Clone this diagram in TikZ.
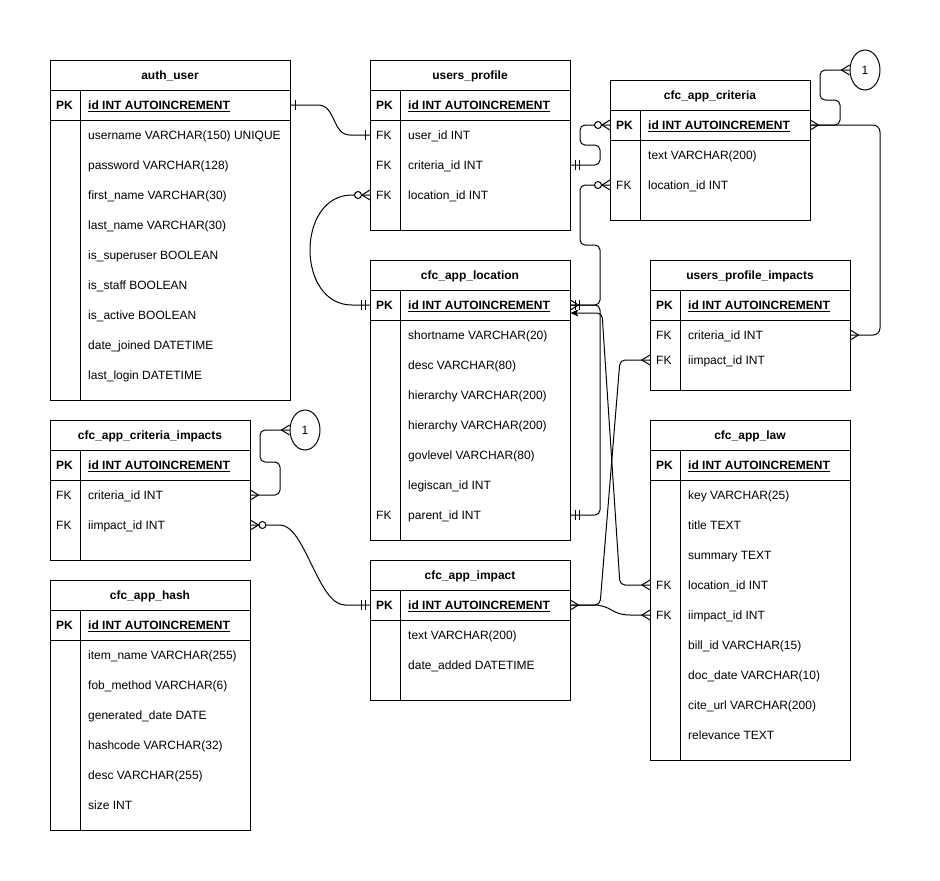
\documentclass[tikz,border=0pt]{standalone}
\usepackage{fontspec}
\setmainfont{Liberation Sans}
\usetikzlibrary{shapes.geometric,arrows.meta,calc}

% entity box: name, x0, y0, x1, y1, title
\newcommand{\ertable}[6]{%
  \draw[tblline,fill=white] (#2,#3) rectangle (#4,#5);
  \node[tbltitle] (#1) at ({(#2+#4)/2},{#3+19.3}) {#6};
  \draw[tblline] (#2,{#3+30}) -- (#4,{#3+30});
  \draw[tblline] (#2,{#3+60}) -- (#4,{#3+60});
  \draw[tblline] ({#2+30},{#3+30}) -- ({#2+30},#5);
}
% attribute row: name, x0, y, width, key, field
\newcommand{\errow}[6]{%
  \node[rowcell,minimum width=#4pt] (#1) at (#2,#3) {};
  \node[keytxt] (#1-k) at ([xshift=6pt,yshift=-4.3pt]#1.west) {#5};
  \node[fldtxt] (#1-f) at ([xshift=38pt,yshift=-4.3pt]#1.west) {#6};
}
% primary key row: name, x0, y, width
\newcommand{\erpk}[4]{%
  \errow{#1}{#2}{#3}{#4}{\textbf{PK}}{\textbf{\underline{id INT AUTOINCREMENT}}}%
}

\tikzset{
  tblline/.style={line width=1pt,draw=black},
  tbltitle/.style={anchor=base,font=\fontsize{12}{14}\selectfont\bfseries,inner sep=0pt},
  rowcell/.style={rectangle,draw=none,inner sep=0pt,minimum height=30pt,anchor=west},
  keytxt/.style={anchor=base west,inner sep=0pt,font=\fontsize{12}{14}\selectfont},
  fldtxt/.style={anchor=base west,inner sep=0pt,font=\fontsize{12}{14}\selectfont},
  conn/.style={line width=1pt,draw=black},
  orth/.style={conn,rounded corners=5pt},
  refcircle/.style={ellipse,draw=black,line width=1pt,fill=white,minimum width=30pt,minimum height=40pt,inner sep=0pt,font=\fontsize{12}{14}\selectfont},
  mone/.pic={\draw[conn] (5,-5) -- (5,5);},
  mmand/.pic={\draw[conn] (5,-5) -- (5,5) (9,-5) -- (9,5);},
  mmany/.pic={\draw[conn] (0,-5) -- (8,0) -- (0,5);},
  mzmany/.pic={\draw[conn] (0,-5) -- (8,0) -- (0,5);
               \draw[conn,fill=white] (12,0) circle[radius=3.5pt];},
}

\begin{document}
\begin{tikzpicture}[x=1pt,y=-1pt]
\fill[white] (0,0) rectangle (940,881);
\useasboundingbox (0,0) rectangle (940,881);

% ---------- auth_user ----------
\ertable{au}{50}{60}{290}{400}{auth\_user}
\erpk{au_id}{50}{105}{240}
\errow{au_un}{50}{135}{240}{}{username VARCHAR(150) UNIQUE}
\errow{au_pw}{50}{165}{240}{}{password VARCHAR(128)}
\errow{au_fn}{50}{195}{240}{}{first\_name VARCHAR(30)}
\errow{au_ln}{50}{225}{240}{}{last\_name VARCHAR(30)}
\errow{au_su}{50}{255}{240}{}{is\_superuser BOOLEAN}
\errow{au_st}{50}{285}{240}{}{is\_staff BOOLEAN}
\errow{au_ac}{50}{315}{240}{}{is\_active BOOLEAN}
\errow{au_dj}{50}{345}{240}{}{date\_joined DATETIME}
\errow{au_ll}{50}{375}{240}{}{last\_login DATETIME}

% ---------- users_profile ----------
\ertable{up}{370}{60}{570}{230}{users\_profile}
\erpk{up_id}{370}{105}{200}
\errow{up_user}{370}{135}{200}{FK}{user\_id INT}
\errow{up_crit}{370}{165}{200}{FK}{criteria\_id INT}
\errow{up_loc}{370}{195}{200}{FK}{location\_id INT}

% ---------- cfc_app_criteria ----------
\ertable{cr}{610}{80}{810}{220}{cfc\_app\_criteria}
\erpk{cr_id}{610}{125}{200}
\errow{cr_text}{610}{155}{200}{}{text VARCHAR(200)}
\errow{cr_loc}{610}{185}{200}{FK}{location\_id INT}

% ---------- cfc_app_location ----------
\ertable{lo}{370}{260}{570}{540}{cfc\_app\_location}
\erpk{lo_id}{370}{305}{200}
\errow{lo_sn}{370}{335}{200}{}{shortname VARCHAR(20)}
\errow{lo_desc}{370}{365}{200}{}{desc VARCHAR(80)}
\errow{lo_h1}{370}{395}{200}{}{hierarchy VARCHAR(200)}
\errow{lo_h2}{370}{425}{200}{}{hierarchy VARCHAR(200)}
\errow{lo_gov}{370}{455}{200}{}{govlevel VARCHAR(80)}
\errow{lo_leg}{370}{485}{200}{}{legiscan\_id INT}
\errow{lo_parent}{370}{515}{200}{FK}{parent\_id INT}

% ---------- users_profile_impacts ----------
\ertable{upi}{650}{260}{850}{390}{users\_profile\_impacts}
\erpk{upi_id}{650}{305}{200}
\errow{upi_crit}{650}{335}{200}{FK}{criteria\_id INT}
\errow{upi_imp}{650}{360}{200}{FK}{iimpact\_id INT}

% ---------- cfc_app_criteria_impacts ----------
\ertable{ci}{50}{420}{250}{560}{cfc\_app\_criteria\_impacts}
\erpk{ci_id}{50}{465}{200}
\errow{ci_crit}{50}{495}{200}{FK}{criteria\_id INT}
\errow{ci_imp}{50}{525}{200}{FK}{iimpact\_id INT}

% ---------- cfc_app_hash ----------
\ertable{ha}{50}{580}{250}{830}{cfc\_app\_hash}
\erpk{ha_id}{50}{625}{200}
\errow{ha_item}{50}{655}{200}{}{item\_name VARCHAR(255)}
\errow{ha_fob}{50}{685}{200}{}{fob\_method VARCHAR(6)}
\errow{ha_gen}{50}{715}{200}{}{generated\_date DATE}
\errow{ha_hash}{50}{745}{200}{}{hashcode VARCHAR(32)}
\errow{ha_desc}{50}{775}{200}{}{desc VARCHAR(255)}
\errow{ha_size}{50}{805}{200}{}{size INT}

% ---------- cfc_app_impact ----------
\ertable{im}{370}{560}{570}{700}{cfc\_app\_impact}
\erpk{im_id}{370}{605}{200}
\errow{im_text}{370}{635}{200}{}{text VARCHAR(200)}
\errow{im_date}{370}{665}{200}{}{date\_added DATETIME}

% ---------- cfc_app_law ----------
\ertable{law}{650}{420}{850}{760}{cfc\_app\_law}
\erpk{law_id}{650}{465}{200}
\errow{law_key}{650}{495}{200}{}{key VARCHAR(25)}
\errow{law_title}{650}{525}{200}{}{title TEXT}
\errow{law_sum}{650}{555}{200}{}{summary TEXT}
\errow{law_loc}{650}{585}{200}{FK}{location\_id INT}
\errow{law_imp}{650}{615}{200}{FK}{iimpact\_id INT}
\errow{law_bill}{650}{645}{200}{}{bill\_id VARCHAR(15)}
\errow{law_doc}{650}{675}{200}{}{doc\_date VARCHAR(10)}
\errow{law_cite}{650}{705}{200}{}{cite\_url VARCHAR(200)}
\errow{law_rel}{650}{735}{200}{}{relevance TEXT}

% ---------- self-reference markers ----------
\node[refcircle] (one1) at (865,70) {1};
\node[refcircle] (one2) at (305,430) {1};

% ---------- relationships ----------
% auth_user.id -- users_profile.user_id
\draw[conn] (au_id.east) -- (318,105) .. controls (336,105) and (332,135) .. (350,135) -- (up_user.west);
% users_profile.criteria_id -- cfc_app_criteria.id
\draw[orth] (up_crit.east) -- (600,165) -- (600,145) -- (580,145) -- (580,125) -- (cr_id.west);
% cfc_app_criteria.location_id -- cfc_app_location.id
\draw[orth] (cr_loc.west) -- (580,185) -- (580,245) -- (600,245) -- (600,305) -- (lo_id.east);
% cfc_app_location.parent_id -- cfc_app_location.id
\draw[orth] (lo_parent.east) -- (600,515) -- (600,305) -- (lo_id.east);
% cfc_app_law.location_id -> cfc_app_location.id
\draw[orth,-{Stealth[length=8pt,width=7pt,inset=2pt]}] (law_loc.west) -- (620,585) -- (602,313) -- ([yshift=-8pt]lo_id.east);
% cfc_app_impact.id -- users_profile_impacts.iimpact_id
\draw[orth] (im_id.east) -- (600,605) -- (620,360) -- (upi_imp.west);
% cfc_app_impact.id -- cfc_app_law.iimpact_id
\draw[conn] (im_id.east) -- (593,605) .. controls (612,605) and (611,615) .. (630,615) -- (law_imp.west);
% cfc_app_criteria.id -- users_profile_impacts.criteria_id
\draw[conn,rounded corners=7pt] (cr_id.east) -- (880,125) -- (880,335) -- (upi_crit.east);
% cfc_app_criteria.id -- reference 1
\draw[orth] (cr_id.east) -- (840,125) -- (840,100) -- (820,100) -- (820,70) -- (one1.west);
% cfc_app_criteria_impacts.criteria_id -- reference 1
\draw[orth] (ci_crit.east) -- (280,495) -- (280,462) -- (260,462) -- (260,430) -- (one2.west);
% cfc_app_criteria_impacts.iimpact_id -- cfc_app_impact.id
\draw[conn] (ci_imp.east) -- (280,525) .. controls (305,525) and (318,605) .. (345,605) -- (im_id.west);
% users_profile.location_id -- cfc_app_location.id
\draw[conn] (up_loc.west) -- (352,195) .. controls (296,195) and (296,305) .. (352,305) -- (lo_id.west);

% ---------- cardinality ends ----------
\pic at (au_id.east) {mone};
\pic[rotate=180] at (up_user.west) {mone};
\pic at (up_crit.east) {mmand};
\pic[rotate=180] at (cr_id.west) {mzmany};
\pic[rotate=180] at (cr_loc.west) {mzmany};
\pic at (lo_id.east) {mmand};
\pic at (lo_id.east) {mmany};
\pic at (lo_parent.east) {mmand};
\pic[rotate=180] at (law_loc.west) {mmany};
\pic at (im_id.east) {mmany};
\pic[rotate=180] at (upi_imp.west) {mmany};
\pic[rotate=180] at (law_imp.west) {mmany};
\pic at (cr_id.east) {mmany};
\pic at (upi_crit.east) {mmany};
\pic[rotate=180] at (one1.west) {mmany};
\pic at (ci_crit.east) {mmany};
\pic[rotate=180] at (one2.west) {mmany};
\pic at (ci_imp.east) {mzmany};
\pic[rotate=180] at (im_id.west) {mmand};
\pic[rotate=180] at (up_loc.west) {mzmany};
\pic[rotate=180] at (lo_id.west) {mmand};
\end{tikzpicture}
\end{document}
